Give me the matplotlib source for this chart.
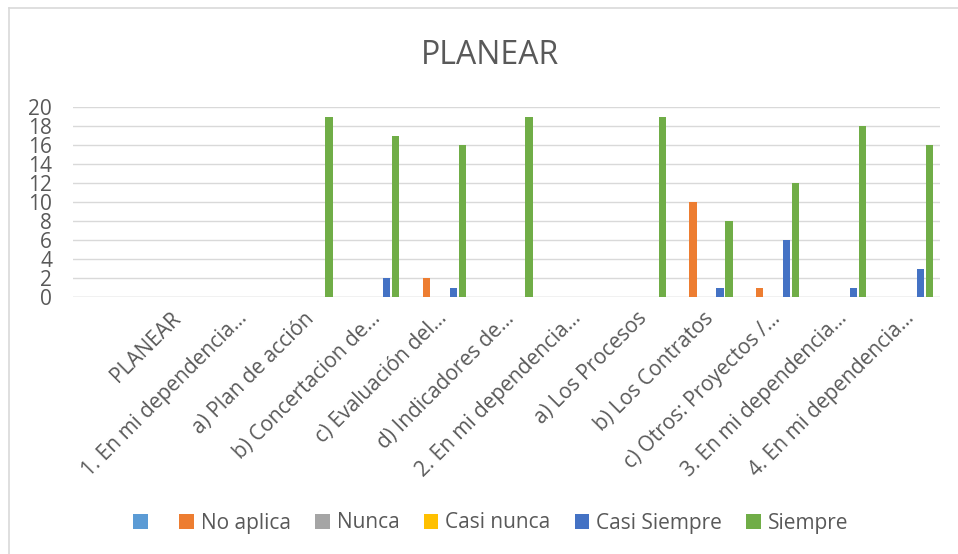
import matplotlib
matplotlib.use("Agg")
import matplotlib.pyplot as plt
from matplotlib.patches import Patch
from matplotlib.lines import Line2D
import numpy as np

plt.rcParams['font.family'] = ['Open Sans', 'DejaVu Sans']

categories = ["", "PLANEAR", "1. En mi dependencia...", "a) Plan de acción",
              "b) Concertacion de...", "c) Evaluación del...", "d) Indicadores de...",
              "2. En mi dependencia...", "a) Los Procesos", "b) Los Contratos",
              "c) Otros: Proyectos /...", "3. En mi dependencia...", "4. En mi dependencia..."]
series_names = ["", "No aplica", "Nunca", "Casi nunca", "Casi Siempre", "Siempre"]
blank =        [0, 0, 0, 0, 0, 0, 0, 0, 0, 0, 0, 0, 0]
no_aplica =    [0, 0, 0, 0, 0, 2, 0, 0, 0, 10, 1, 0, 0]
nunca =        [0, 0, 0, 0, 0, 0, 0, 0, 0, 0, 0, 0, 0]
casi_nunca =   [0, 0, 0, 0, 0, 0, 0, 0, 0, 0, 0, 0, 0]
casi_siempre = [0, 0, 0, 0, 2, 1, 0, 0, 0, 1, 6, 1, 3]
siempre =      [0, 0, 0, 19, 17, 16, 19, 0, 19, 8, 12, 18, 16]
colors = ["#5B9BD5", "#ED7D31", "#A5A5A5", "#FFC000", "#4472C4", "#70AD47"]
yticks = [0, 2, 4, 6, 8, 10, 12, 14, 16, 18, 20]

all_series = [blank, no_aplica, nunca, casi_nunca, casi_siempre, siempre]

W, H = 958, 554
fig = plt.figure(figsize=(W / 100, H / 100), dpi=100)
ax = fig.add_axes([73 / W, 1 - 297 / H, (940 - 73) / W, (297 - 107) / H])

text_color = "#595959"
grid_color = "#D9D9D9"

x = np.arange(len(categories))
n = len(all_series)
slot = 0.81 / n
for i, (vals, c) in enumerate(zip(all_series, colors)):
    offs = -0.405 + slot * (i + 0.5)
    ax.bar(x + offs, vals, width=slot * 0.8, color=c, zorder=3, linewidth=0)

ax.set_xlim(-0.5, len(categories) - 0.5)
ax.set_ylim(0, 20)
ax.set_yticks(yticks)
ax.set_yticklabels([str(v) for v in yticks])
ax.yaxis.grid(True, color=grid_color, linewidth=1.0, zorder=0)
for s in ax.spines.values():
    s.set_visible(False)
ax.axhline(0, color=grid_color, linewidth=1.0, zorder=2)
ax.tick_params(axis='y', length=0, pad=15, labelsize=15, labelcolor=text_color)
ax.tick_params(axis='x', length=0, pad=8, labelsize=15, labelcolor=text_color)
ax.set_xticks(x)
ax.set_xticklabels(categories, rotation=45, ha='right', va='top', rotation_mode='anchor')
for lbl in ax.get_xticklabels():
    lbl.set_transform(lbl.get_transform() + matplotlib.transforms.ScaledTranslation(-3 / 100, 0, fig.dpi_scale_trans))

fig.text(490 / W, 1 - 64 / H, "PLANEAR", ha='center', va='baseline', fontsize=23, color=text_color)

handles = [Patch(facecolor=c, edgecolor='none') for c in colors]
leg = fig.legend(handles, series_names, loc='center', bbox_to_anchor=(491 / W, 1 - 523 / H),
                 ncol=6, frameon=False, fontsize=15, handlelength=0.7, handleheight=0.7,
                 handletextpad=0.35, columnspacing=1.15, labelcolor=text_color)

# outer chart border (top and left visible)
fig.add_artist(Line2D([9 / W, 1], [1 - 8 / H, 1 - 8 / H], transform=fig.transFigure, color=grid_color, linewidth=1.2))
fig.add_artist(Line2D([9 / W, 9 / W], [0, 1 - 8 / H], transform=fig.transFigure, color=grid_color, linewidth=1.2))

fig.savefig("out.png", dpi=100)
